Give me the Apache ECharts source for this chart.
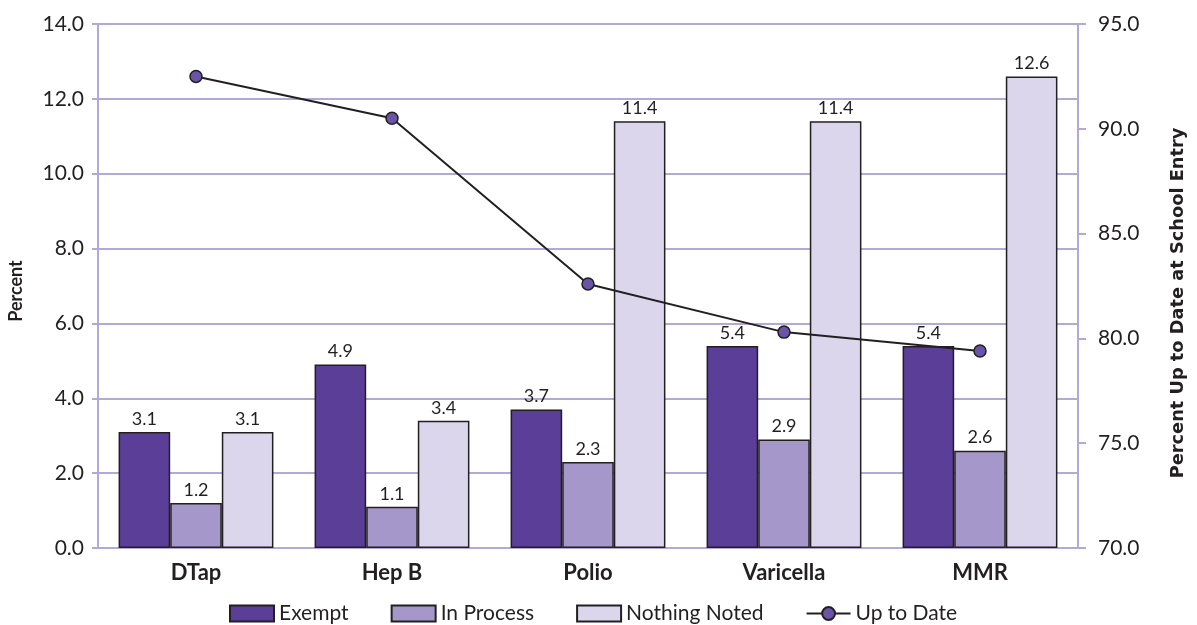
<!DOCTYPE html>
<html><head><meta charset="utf-8">
<script src="https://cdn.jsdelivr.net/npm/echarts@6/dist/echarts.min.js"></script>
<style>html,body{margin:0;padding:0;background:#fff}#c{width:1197px;height:625px}</style>
</head><body><div id="c"></div>
<script>
const categories = ['DTap', 'Hep B', 'Polio', 'Varicella', 'MMR'];
const exempt = [3.1, 4.9, 3.7, 5.4, 5.4];
const inProcess = [1.2, 1.1, 2.3, 2.9, 2.6];
const nothingNoted = [3.1, 3.4, 11.4, 11.4, 12.6];
const upToDate = [92.5, 90.5, 82.6, 80.3, 79.4];

const FONT = 'Lato';
const BOLD = 'DejaVu Sans';
const GRID = '#b3a8d6';
const chart = echarts.init(document.getElementById('c'));
const barLabel = {show: true, position: 'top', distance: 4, color: '#231f20', fontFamily: FONT, fontSize: 18, formatter: p => p.value.toFixed(1)};
const barBase = {type: 'bar', yAxisIndex: 0, barGap: '0%', barCategoryGap: '21%', label: barLabel};
chart.setOption({
  animation: false,
  textStyle: {fontFamily: FONT},
  grid: {left: 98, right: 119, top: 24, bottom: 77, containLabel: false, outerBoundsMode: 'none'},
  legend: {
    top: 598, left: 224, itemWidth: 44, itemHeight: 16, itemGap: 42,
    textStyle: {fontSize: 21, color: '#231f20', fontFamily: FONT},
    data: [
      {name: 'Exempt', icon: 'rect'},
      {name: 'In Process', icon: 'rect'},
      {name: 'Nothing Noted', icon: 'rect'},
      {name: 'Up to Date'}
    ]
  },
  xAxis: {
    type: 'category', data: categories,
    axisLine: {show: false}, axisTick: {show: false},
    axisLabel: {fontSize: 22, fontWeight: 'bold', color: '#231f20', margin: 14, fontFamily: FONT}
  },
  yAxis: [
    {
      type: 'value', min: 0, max: 14, interval: 2, position: 'left',
      name: 'Percent', nameLocation: 'middle', nameGap: 73, nameRotate: 90,
      nameTextStyle: {fontSize: 18, fontWeight: 'bold', color: '#231f20', fontFamily: FONT, padding: [0, 10, 0, 0]},
      axisLine: {show: true, lineStyle: {color: GRID, width: 2}},
      axisTick: {show: true, length: 6, lineStyle: {color: GRID, width: 2}},
      splitLine: {show: true, lineStyle: {color: GRID, width: 2}},
      axisLabel: {fontSize: 21, color: '#231f20', margin: 14, formatter: v => v.toFixed(1), fontFamily: FONT}
    },
    {
      type: 'value', min: 70, max: 95, interval: 5, position: 'right',
      name: 'Percent Up to Date at School Entry', nameLocation: 'middle', nameGap: 91, nameRotate: 90,
      nameTextStyle: {fontSize: 17.8, fontWeight: 'bold', color: '#231f20', fontFamily: BOLD, padding: [0, 34, 0, 0]},
      axisLine: {show: true, lineStyle: {color: GRID, width: 2}},
      axisTick: {show: true, length: 8, lineStyle: {color: GRID, width: 2}},
      splitLine: {show: false},
      axisLabel: {fontSize: 21, color: '#231f20', margin: 20, formatter: v => v.toFixed(1), fontFamily: FONT}
    }
  ],
  series: [
    Object.assign({}, barBase, {name: 'Exempt', data: exempt, itemStyle: {color: '#5a3e98', borderColor: '#231f20', borderWidth: 1.5}}),
    Object.assign({}, barBase, {name: 'In Process', data: inProcess, itemStyle: {color: '#a597c9', borderColor: '#231f20', borderWidth: 1.5}}),
    Object.assign({}, barBase, {name: 'Nothing Noted', data: nothingNoted, itemStyle: {color: '#dcd6ec', borderColor: '#231f20', borderWidth: 1.5}}),
    {
      name: 'Up to Date', type: 'line', yAxisIndex: 1, data: upToDate, z: 10,
      symbol: 'circle', symbolSize: 12,
      lineStyle: {color: '#231f20', width: 2},
      itemStyle: {color: '#6a54a8', borderColor: '#231f20', borderWidth: 1.5}
    }
  ]
});
</script></body></html>
